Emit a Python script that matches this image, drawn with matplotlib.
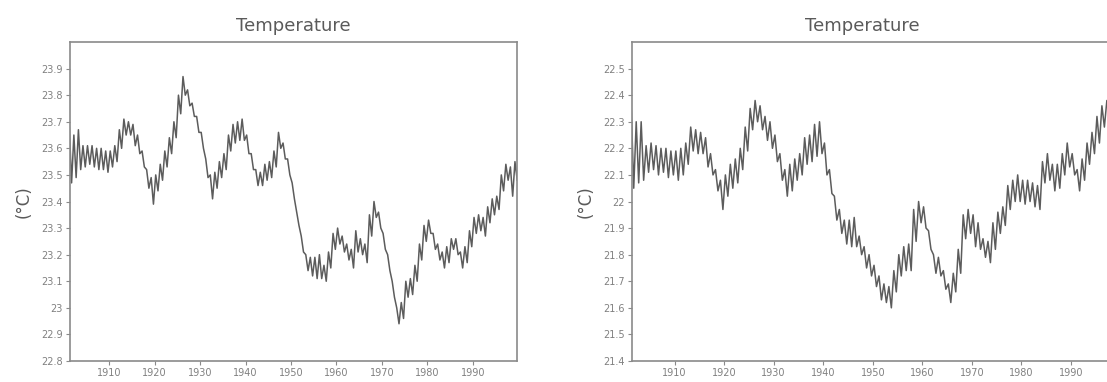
import numpy as np
import matplotlib
matplotlib.use("Agg")
import matplotlib.pyplot as plt

# yearly high / low of the wiggly curve
years_left = list(range(1901, 2000))
hi_left = [23.68, 23.65, 23.67, 23.61, 23.61, 23.61, 23.60, 23.60, 23.59, 23.59,
           23.61, 23.67, 23.71, 23.70, 23.69, 23.65, 23.59, 23.52, 23.49, 23.50,
           23.54, 23.59, 23.64, 23.70, 23.80, 23.87, 23.82, 23.77, 23.72, 23.66,
           23.56, 23.50, 23.51, 23.55, 23.58, 23.65, 23.69, 23.70, 23.71, 23.65,
           23.58, 23.52, 23.51, 23.54, 23.55, 23.59, 23.66, 23.62, 23.56, 23.47,
           23.36, 23.27, 23.20, 23.19, 23.19, 23.20, 23.16, 23.21, 23.28, 23.30,
           23.27, 23.24, 23.22, 23.29, 23.26, 23.24, 23.35, 23.40, 23.36, 23.28,
           23.20, 23.10, 23.00, 23.02, 23.10, 23.11, 23.16, 23.24, 23.31, 23.33,
           23.28, 23.24, 23.21, 23.23, 23.26, 23.26, 23.21, 23.23, 23.29, 23.34,
           23.35, 23.34, 23.38, 23.41, 23.42, 23.50, 23.54, 23.53, 23.55]
lo_left = [23.47, 23.49, 23.52, 23.53, 23.54, 23.53, 23.52, 23.52, 23.51, 23.53,
           23.55, 23.60, 23.65, 23.65, 23.61, 23.58, 23.53, 23.45, 23.39, 23.44,
           23.48, 23.53, 23.58, 23.64, 23.73, 23.80, 23.76, 23.72, 23.66, 23.60,
           23.49, 23.41, 23.45, 23.49, 23.52, 23.59, 23.62, 23.63, 23.63, 23.58,
           23.52, 23.46, 23.46, 23.48, 23.49, 23.53, 23.60, 23.56, 23.50, 23.41,
           23.31, 23.21, 23.14, 23.12, 23.11, 23.11, 23.10, 23.15, 23.22, 23.24,
           23.21, 23.18, 23.15, 23.21, 23.20, 23.17, 23.27, 23.34, 23.30, 23.22,
           23.14, 23.04, 22.94, 22.96, 23.04, 23.05, 23.10, 23.18, 23.25, 23.28,
           23.22, 23.18, 23.15, 23.17, 23.22, 23.20, 23.15, 23.17, 23.23, 23.28,
           23.29, 23.27, 23.32, 23.35, 23.37, 23.44, 23.48, 23.42, 23.48]

years_right = list(range(1901, 1999))
hi_right = [22.35, 22.30, 22.30, 22.21, 22.22, 22.21, 22.20, 22.20, 22.19, 22.19,
            22.20, 22.22, 22.28, 22.27, 22.26, 22.24, 22.18, 22.12, 22.08, 22.10,
            22.14, 22.16, 22.20, 22.28, 22.35, 22.38, 22.36, 22.32, 22.30, 22.25,
            22.18, 22.12, 22.14, 22.16, 22.18, 22.24, 22.25, 22.29, 22.30, 22.22,
            22.12, 22.02, 21.97, 21.93, 21.93, 21.94, 21.87, 21.83, 21.80, 21.76,
            21.72, 21.69, 21.68, 21.74, 21.80, 21.83, 21.84, 21.97, 22.00, 21.98,
            21.89, 21.80, 21.79, 21.74, 21.69, 21.73, 21.82, 21.95, 21.97, 21.95,
            21.92, 21.86, 21.85, 21.92, 21.96, 21.98, 22.06, 22.08, 22.10, 22.08,
            22.08, 22.07, 22.06, 22.15, 22.18, 22.14, 22.14, 22.18, 22.22, 22.18,
            22.12, 22.16, 22.22, 22.26, 22.32, 22.36, 22.38, 22.40]
lo_right = [22.05, 22.07, 22.08, 22.11, 22.12, 22.10, 22.11, 22.09, 22.10, 22.08,
            22.10, 22.14, 22.19, 22.18, 22.18, 22.13, 22.10, 22.04, 21.97, 22.02,
            22.05, 22.07, 22.12, 22.19, 22.27, 22.30, 22.27, 22.23, 22.20, 22.15,
            22.08, 22.02, 22.04, 22.08, 22.10, 22.14, 22.15, 22.17, 22.18, 22.10,
            22.03, 21.93, 21.88, 21.84, 21.83, 21.83, 21.80, 21.75, 21.72, 21.68,
            21.63, 21.62, 21.60, 21.66, 21.72, 21.74, 21.74, 21.85, 21.92, 21.90,
            21.82, 21.73, 21.72, 21.67, 21.62, 21.66, 21.73, 21.86, 21.88, 21.83,
            21.82, 21.79, 21.77, 21.82, 21.88, 21.91, 21.97, 22.00, 22.00, 21.99,
            22.00, 21.98, 21.97, 22.07, 22.08, 22.04, 22.05, 22.10, 22.13, 22.10,
            22.04, 22.08, 22.14, 22.18, 22.22, 22.28, 22.32, 22.34]

yticks_left = [22.8, 22.9, 23.0, 23.1, 23.2, 23.3, 23.4, 23.5, 23.6, 23.7, 23.8, 23.9]
yticks_right = [21.4, 21.5, 21.6, 21.7, 21.8, 21.9, 22.0, 22.1, 22.2, 22.3, 22.4, 22.5]
xticks = [1910, 1920, 1930, 1940, 1950, 1960, 1970, 1980, 1990]

TXT = "#5a5a5a"
FRAME = "#8a8a8a"
LINE = "#5c5c5c"


def wiggle(years, hi, lo):
    # two samples per year: high in the first half, low in the second
    x = np.repeat(np.array(years, dtype=float), 2) + np.tile([0.25, 0.75], len(years))
    y = np.column_stack([hi, lo]).ravel()
    return x, y


def style(ax, yticks, ylim):
    ax.set_xlim(1901.4, 1999.7)
    ax.set_ylim(*ylim)
    ax.set_xticks(xticks)
    ax.set_xticklabels([str(t) for t in xticks])
    ax.set_yticks(yticks)
    ax.set_yticklabels(["%g" % round(t, 1) for t in yticks])
    for s in ax.spines.values():
        s.set_color(FRAME)
        s.set_linewidth(1.2)
    ax.tick_params(direction="out", length=3, width=0.8, color=FRAME,
                   labelsize=7, labelcolor="#808080", pad=2)
    ax.set_ylabel("(°C)", fontsize=12, color=TXT, labelpad=6)


fig = plt.figure(figsize=(11.07, 3.82), dpi=100)

ax1 = fig.add_axes([70 / 1107, 21 / 382, 447 / 1107, 319 / 382])
x, y = wiggle(years_left, hi_left, lo_left)
ax1.plot(x, y, color=LINE, lw=1.1)
style(ax1, yticks_left, (22.8, 24.0))
ax1.set_title("Temperature", fontsize=13, color=TXT, pad=8)

ax2 = fig.add_axes([632 / 1107, 21 / 382, 487 / 1107, 319 / 382])
x, y = wiggle(years_right, hi_right, lo_right)
ax2.plot(x, y, color=LINE, lw=1.1)
style(ax2, yticks_right, (21.4, 22.6))
ax2.set_title("Temperature", fontsize=13, color=TXT, pad=8,
              x=(862 - 632) / 487)

fig.savefig("out.png", dpi=100)
